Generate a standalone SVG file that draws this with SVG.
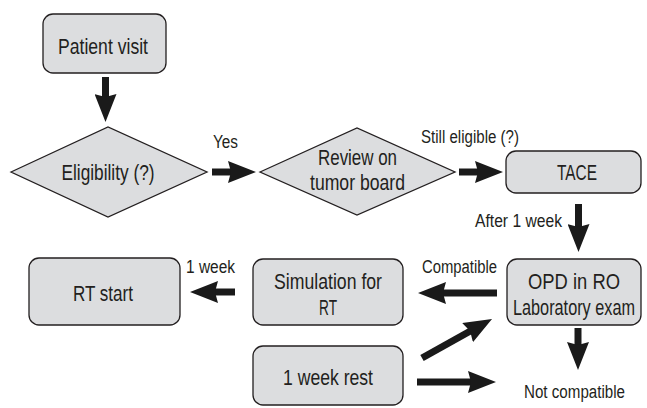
<svg xmlns="http://www.w3.org/2000/svg" width="647" height="408" viewBox="0 0 647 408">
  <style>
    .node { fill: #dcdddf; stroke: #231f20; stroke-width: 1.3; }
    .t { font-family: "Liberation Sans", Arial, sans-serif; fill: #231f20; text-anchor: middle; }
    .big { font-size: 22px; }
    .small { font-size: 18px; }
    .arrow { stroke: #1a1a1a; stroke-width: 7; fill: none; marker-end: url(#head); }
  </style>
  <defs>
    <!-- solid arrowhead; tip sits 14px beyond the end of the shaft -->
    <marker id="head" markerUnits="userSpaceOnUse" viewBox="0 0 28 22" refX="14" refY="11" markerWidth="28" markerHeight="22" orient="auto">
      <path d="M0,0 L28,11 L0,22 L3,11 Z" fill="#1a1a1a"/>
    </marker>
  </defs>

  <rect width="647" height="408" fill="#ffffff"/>

  <g id="patient-visit">
    <rect class="node" x="43" y="14" width="123" height="59" rx="10"/>
    <text class="t big" x="103" y="54" textLength="90" lengthAdjust="spacingAndGlyphs">Patient visit</text>
  </g>

  <g id="eligibility">
    <polygon class="node" points="11,172 108,127 207,172 108,217"/>
    <text class="t big" x="108" y="180" textLength="93" lengthAdjust="spacingAndGlyphs">Eligibility (?)</text>
  </g>

  <g id="tumor-board">
    <polygon class="node" points="260,172 357,128 455,172 357,215"/>
    <text class="t big" x="357.5" y="165" textLength="79" lengthAdjust="spacingAndGlyphs">Review on</text>
    <text class="t big" x="357.5" y="190" textLength="95" lengthAdjust="spacingAndGlyphs">tumor board</text>
  </g>

  <g id="tace">
    <rect class="node" x="506" y="151" width="135" height="42" rx="10"/>
    <text class="t big" x="577" y="180" textLength="40" lengthAdjust="spacingAndGlyphs">TACE</text>
  </g>

  <g id="opd">
    <rect class="node" x="507" y="259" width="134" height="66" rx="10"/>
    <text class="t big" x="574" y="289" textLength="92" lengthAdjust="spacingAndGlyphs">OPD in RO</text>
    <!-- condensed horizontally so the long line fits the box -->
    <text class="t big" transform="translate(574 315) scale(0.74 1)">Laboratory exam</text>
  </g>

  <g id="simulation">
    <rect class="node" x="253" y="259" width="150" height="66" rx="10"/>
    <text class="t big" x="328" y="289" textLength="108" lengthAdjust="spacingAndGlyphs">Simulation for</text>
    <text class="t big" x="328" y="315" textLength="18" lengthAdjust="spacingAndGlyphs">RT</text>
  </g>

  <g id="rt-start">
    <rect class="node" x="29" y="258" width="151" height="67" rx="10"/>
    <text class="t big" x="103" y="301" textLength="60" lengthAdjust="spacingAndGlyphs">RT start</text>
  </g>

  <g id="rest">
    <rect class="node" x="253" y="346" width="150" height="59" rx="10"/>
    <text class="t big" x="328" y="385" textLength="90" lengthAdjust="spacingAndGlyphs">1 week rest</text>
  </g>

  <g id="not-compatible">
    <text class="t small" x="574.5" y="398" textLength="101" lengthAdjust="spacingAndGlyphs">Not compatible</text>
  </g>

  <g id="connectors">
    <line class="arrow" x1="105.5" y1="77" x2="105.5" y2="108"/>
    <line class="arrow" x1="212" y1="172" x2="242" y2="172"/>
    <line class="arrow" x1="459" y1="172" x2="489" y2="172"/>
    <line class="arrow" x1="578.5" y1="204" x2="578.5" y2="238"/>
    <line class="arrow" x1="497" y1="293" x2="432" y2="293"/>
    <line class="arrow" x1="235" y1="292" x2="204" y2="292"/>
    <line class="arrow" x1="422" y1="358" x2="479.8" y2="325.8"/>
    <line class="arrow" x1="417" y1="382" x2="482" y2="382"/>
    <line class="arrow" x1="578" y1="328" x2="578" y2="356"/>
    <text class="t small" x="225.5" y="148" textLength="25" lengthAdjust="spacingAndGlyphs">Yes</text>
    <text class="t small" x="470" y="143" textLength="98" lengthAdjust="spacingAndGlyphs">Still eligible (?)</text>
    <text class="t small" x="518.5" y="227" textLength="87" lengthAdjust="spacingAndGlyphs">After 1 week</text>
    <text class="t small" x="459.5" y="273" textLength="75" lengthAdjust="spacingAndGlyphs">Compatible</text>
    <text class="t small" x="210.5" y="273" textLength="49" lengthAdjust="spacingAndGlyphs">1 week</text>
  </g>
</svg>
